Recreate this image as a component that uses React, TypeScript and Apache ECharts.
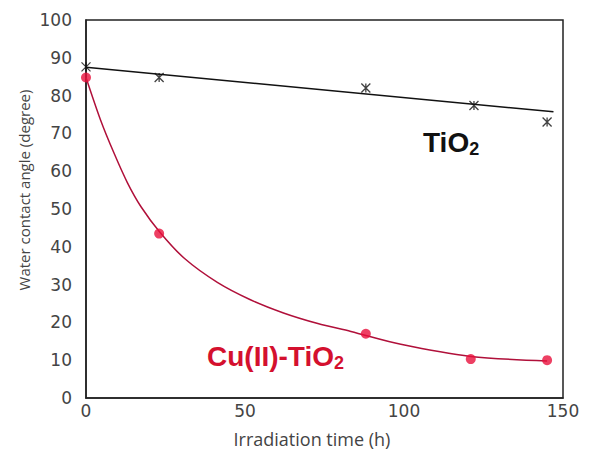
import React, { useEffect, useRef } from "react";
import * as echarts from "echarts";

const xTicks = [0, 50, 100, 150];
const tio2Time = [0, 23, 88, 122, 145];
const tio2Angle = [87.6, 84.8, 82, 77.4, 73];
const tio2TrendTime = [0, 147];
const tio2TrendAngle = [87.5, 75.7];
const cuTime = [0, 23, 88, 121, 145];
const cuAngle = [84.8, 43.5, 17, 10.3, 10];
const cuFitTime = [0, 4.6, 8.8, 13, 17.3, 23.3, 31, 41.3, 51.7, 62.1, 72.9, 83.3, 99, 121, 145];
const cuFitAngle = [84.8, 73.5, 64.8, 57.0, 50.6, 43.8, 36.9, 30.6, 26.0, 22.5, 19.7, 17.6, 14.2, 11.0, 9.8];

const zip = (a: number[], b: number[]) => a.map((v, i) => [v, b[i]]);

export default function App() {
  const ref = useRef<HTMLDivElement>(null);
  useEffect(() => {
    document.body.style.margin = "0";
    const chart = echarts.init(ref.current!, null, { renderer: "svg" });
    const tickFont = { fontFamily: "DejaVu Sans", fontSize: 17, color: "#444" };
    chart.setOption({
      animation: false,
      backgroundColor: "#fff",
      grid: {
        left: 86,
        top: 20,
        right: 27,
        bottom: 53,
        show: true,
        borderColor: "#222",
        borderWidth: 1.5,
        backgroundColor: "transparent",
      },
      xAxis: {
        type: "value",
        min: xTicks[0],
        max: xTicks[xTicks.length - 1],
        interval: 50,
        axisLine: { lineStyle: { color: "#222", width: 1.5 } },
        axisTick: { show: false },
        splitLine: { show: false },
        axisLabel: { ...tickFont, margin: 4 },
      },
      yAxis: {
        type: "value",
        min: 0,
        max: 100,
        interval: 10,
        axisLine: { show: true, lineStyle: { color: "#222", width: 1.5 } },
        axisTick: { show: false },
        splitLine: { show: false },
        axisLabel: { ...tickFont, margin: 14 },
      },
      series: [
        {
          type: "line",
          data: zip(tio2TrendTime, tio2TrendAngle),
          symbol: "none",
          lineStyle: { color: "#111", width: 1.5 },
          z: 2,
        },
        {
          type: "line",
          data: zip(cuFitTime, cuFitAngle),
          symbol: "none",
          smooth: 0.3,
          lineStyle: { color: "#b0103a", width: 1.5 },
          z: 2,
        },
        {
          type: "scatter",
          data: zip(tio2Time, tio2Angle),
          symbol: "path://M0,0L10,10M10,0L0,10M5,0L5,10",
          symbolSize: 9,
          itemStyle: { color: "none", borderColor: "#111", borderWidth: 1.3 },
          z: 3,
        },
        {
          type: "scatter",
          data: zip(cuTime, cuAngle),
          symbol: "circle",
          symbolSize: 10,
          itemStyle: { color: "#e8103c" },
          z: 3,
        },
      ],
      graphic: [
        {
          type: "text",
          x: 312,
          y: 439,
          style: {
            text: "Irradiation time (h)",
            fontFamily: "Open Sans",
            fontSize: 18,
            fill: "#444",
            align: "center",
            verticalAlign: "middle",
          },
        },
        {
          type: "text",
          x: 24,
          y: 190,
          rotation: Math.PI / 2,
          style: {
            text: "Water contact angle (degree)",
            fontFamily: "Open Sans",
            fontSize: 15,
            fill: "#444",
            align: "center",
            verticalAlign: "middle",
          },
        },
        {
          type: "text",
          left: 423,
          top: 128,
          style: {
            text: "{a|TiO}{b|2}",
            rich: {
              a: { fontFamily: "Liberation Sans", fontWeight: "bold", fontSize: 28, fill: "#111" },
              b: { fontFamily: "Liberation Sans", fontWeight: "bold", fontSize: 18, fill: "#111", padding: [14, 0, 0, 0] },
            },
          },
        },
        {
          type: "text",
          left: 207,
          top: 342,
          style: {
            text: "{a|Cu(II)-TiO}{b|2}",
            rich: {
              a: { fontFamily: "Liberation Sans", fontWeight: "bold", fontSize: 28, fill: "#d4102e" },
              b: { fontFamily: "Liberation Sans", fontWeight: "bold", fontSize: 18, fill: "#d4102e", padding: [14, 0, 0, 0] },
            },
          },
        },
      ],
    });
    return () => chart.dispose();
  }, []);
  return <div ref={ref} style={{ width: 590, height: 451 }} />;
}
